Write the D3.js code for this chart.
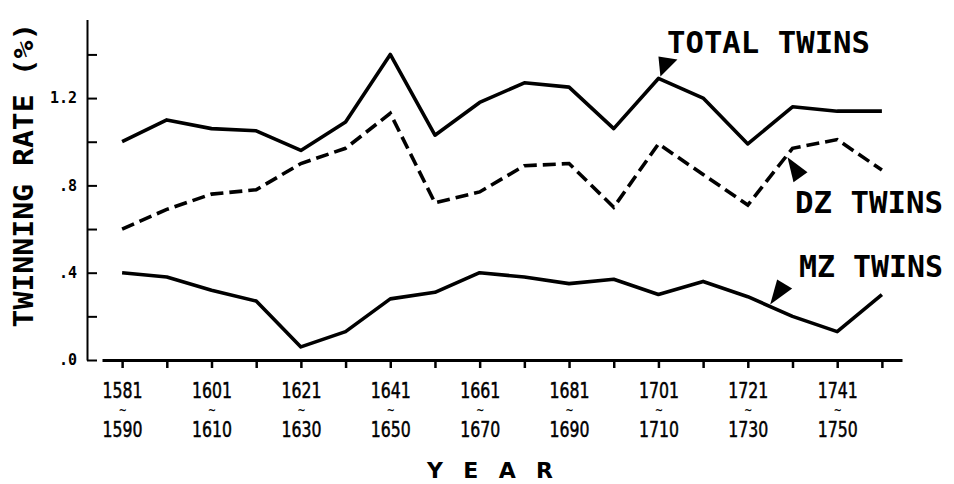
<!DOCTYPE html>
<html>
<head>
<meta charset="utf-8">
<script src="https://cdn.jsdelivr.net/npm/d3@7"></script>
<style>
  body { margin: 0; background: #fff; }
  svg { display: block; }
  .mono { font-family: "DejaVu Sans Mono", monospace; font-weight: bold; }
  .digits { font-family: "DejaVu Sans Condensed", "DejaVu Sans", sans-serif; }
</style>
</head>
<body>
<svg id="chart" width="954" height="484"></svg>
<script>
// decade periods (start / end year)
const startYears = ["1581","1591","1601","1611","1621","1631","1641","1651","1661","1671","1681","1691","1701","1711","1721","1731","1741","1751"];
const endYears   = ["1590","1600","1610","1620","1630","1640","1650","1660","1670","1680","1690","1700","1710","1720","1730","1740","1750","1760"];

// twinning rate (%)
const totalTwins = [1.00, 1.10, 1.06, 1.05, 0.96, 1.09, 1.40, 1.03, 1.18, 1.27, 1.25, 1.06, 1.29, 1.20, 0.99, 1.16, 1.14, 1.14];
const dzTwins    = [0.60, 0.69, 0.76, 0.78, 0.90, 0.97, 1.13, 0.72, 0.77, 0.89, 0.90, 0.70, 0.99, 0.85, 0.71, 0.97, 1.01, 0.87];
const mzTwins    = [0.40, 0.38, 0.32, 0.27, 0.06, 0.13, 0.28, 0.31, 0.40, 0.38, 0.35, 0.37, 0.30, 0.36, 0.29, 0.20, 0.13, 0.30];

const yTicks = [0, 0.2, 0.4, 0.6, 0.8, 1.0, 1.2, 1.4];
const yTickLabels = {"0": ".0", "0.4": ".4", "0.8": ".8", "1.2": "1.2"};

const svg = d3.select("#chart");

const x = d3.scaleLinear().domain([-0.45, startYears.length - 0.55]).range([102, 902]);
const y = d3.scaleLinear().domain([0, 1.56]).range([360, 19.5]);
const idx = d3.range(startYears.length);

// y axis (ticks point inward)
const yAxis = svg.append("g")
    .attr("transform", "translate(87,0)")
    .call(d3.axisLeft(y).tickValues(yTicks).tickSize(-10).tickSizeOuter(0).tickPadding(10)
      .tickFormat(d => yTickLabels[String(+d.toFixed(1))] || ""));
yAxis.select(".domain").attr("stroke-width", 2);
yAxis.selectAll(".tick line").attr("stroke-width", 2);
yAxis.selectAll(".tick text").attr("class", "mono").style("font-size", "15px").attr("fill", "#000");

// x axis, detached from the y axis like in the original
const xAxis = svg.append("g")
    .attr("transform", "translate(0,360)")
    .call(d3.axisBottom(x).tickValues(idx).tickSize(8).tickSizeOuter(0).tickFormat(""));
xAxis.select(".domain").attr("stroke-width", 3);
xAxis.selectAll(".tick line").attr("stroke-width", 2.5);

// two-line period labels on every other tick
const lab = xAxis.selectAll(".tick").filter(d => d % 2 === 0);
lab.append("text").attr("class", "digits").attr("y", 38).attr("text-anchor", "middle")
   .attr("fill", "#000").attr("stroke", "#000").attr("stroke-width", 0.5).style("font-size", "22px")
   .attr("textLength", 40).attr("lengthAdjust", "spacingAndGlyphs")
   .text(d => startYears[d]);
lab.append("text").attr("y", 53.5).attr("text-anchor", "middle").attr("fill", "#000")
   .style("font-size", "10px").style("font-family", "DejaVu Sans").style("font-weight", "bold").text("~");
lab.append("text").attr("class", "digits").attr("y", 77).attr("text-anchor", "middle")
   .attr("fill", "#000").attr("stroke", "#000").attr("stroke-width", 0.5).style("font-size", "22px")
   .attr("textLength", 40).attr("lengthAdjust", "spacingAndGlyphs")
   .text(d => endYears[d]);

// lines
const line = vals => d3.line().x(i => x(i)).y(i => y(vals[i]))(idx);
svg.append("path").attr("d", line(totalTwins)).attr("fill", "none")
   .attr("stroke", "#000").attr("stroke-width", 3.6).attr("stroke-linejoin", "round");
svg.append("path").attr("d", line(dzTwins)).attr("fill", "none")
   .attr("stroke", "#000").attr("stroke-width", 3.6).attr("stroke-dasharray", "13,6");
svg.append("path").attr("d", line(mzTwins)).attr("fill", "none")
   .attr("stroke", "#000").attr("stroke-width", 3.6).attr("stroke-linejoin", "round");

// axis titles
svg.append("text").attr("class", "mono")
   .attr("transform", "translate(33,175) rotate(-90)")
   .attr("text-anchor", "middle").style("font-size", "27px")
   .attr("textLength", 305).attr("lengthAdjust", "spacingAndGlyphs")
   .text("TWINNING RATE (%)");
svg.append("text")
   .attr("x", 490).attr("y", 478).attr("text-anchor", "middle")
   .style("font-family", "DejaVu Sans").style("font-weight", "bold").style("font-size", "22px")
   .attr("textLength", 126).attr("lengthAdjust", "spacing")
   .text("YEAR");

// series annotations with arrowheads
function arrow(tx, ty, pts) {
  svg.append("path")
     .attr("d", "M" + tx + "," + ty + pts.map(p => "L" + (tx + p[0]) + "," + (ty + p[1])).join("") + "Z")
     .attr("fill", "#000");
}
function label(txt, x0, base, len, size) {
  svg.append("text").attr("class", "mono").attr("x", x0).attr("y", base)
     .style("font-size", size + "px")
     .attr("textLength", len).attr("lengthAdjust", "spacingAndGlyphs").text(txt);
}
label("TOTAL TWINS", 667, 53, 203, 31);
arrow(x(12) + 2, y(totalTwins[12]) - 2, [[-2, -20], [17, -17]]);
label("DZ TWINS", 795, 213, 148, 30);
arrow(x(15) - 5, y(dzTwins[15]) + 9, [[6, 25], [20, 15]]);
label("MZ TWINS", 799, 277, 144, 30);
arrow(x(14.5), y((mzTwins[14] + mzTwins[15]) / 2) - 2, [[7, -25], [22, -16]]);
</script>
</body>
</html>
